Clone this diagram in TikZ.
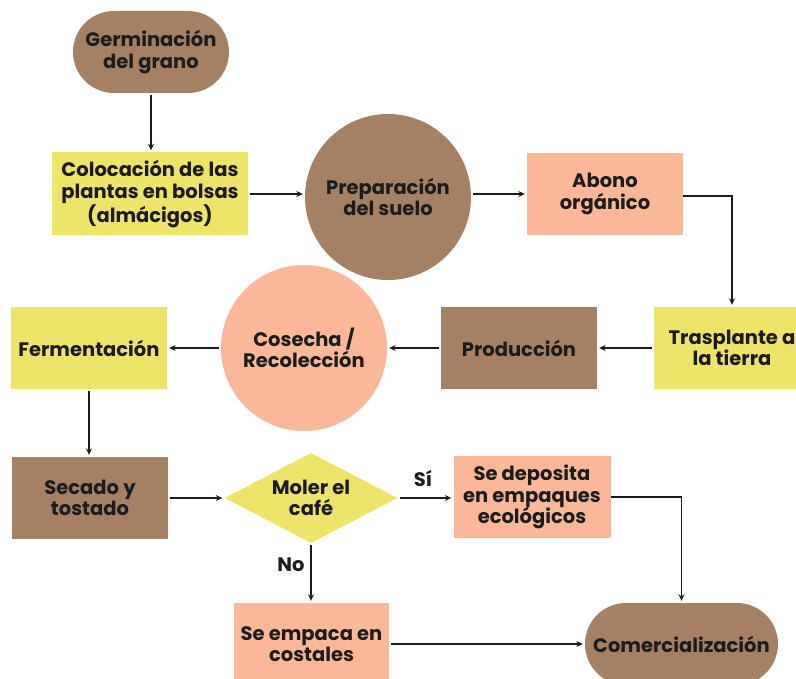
\documentclass[tikz,border=0pt]{standalone}
\usepackage{fontspec}
\setmainfont{Poppins}
\usetikzlibrary{shapes.geometric,arrows.meta}
\definecolor{cbrown}{HTML}{A68062}
\definecolor{cyellow}{HTML}{EEE46A}
\definecolor{csalmon}{HTML}{FBB898}
\definecolor{cink}{HTML}{1C1C1C}
\tikzset{
  base/.style={inner sep=0pt, align=center, text=cink,
    font=\fontsize{19.5}{21.5}\selectfont\bfseries},
  box/.style={base, rectangle, minimum width=156pt, minimum height=82pt},
  roundbox/.style={base, rectangle, rounded corners=41pt, minimum width=156pt, minimum height=82pt},
  disc/.style={base, circle, minimum size=166pt},
  lbl/.style={base},
  arr/.style={draw=cink, line width=1.8pt, -{Stealth[length=6.5pt,width=6pt]},
    shorten <=2pt, shorten >=2pt},
}
\begin{document}
\begin{tikzpicture}[x=1pt,y=-1pt]
\useasboundingbox (0,0) rectangle (796,679);
\clip (0,0) rectangle (796,679);
\fill[white] (0,0) rectangle (796,679);
% nodes
\node[roundbox, fill=cbrown] (germ) at (151,52) {Germinación\\del grano};
\node[box, fill=cyellow, minimum width=196pt, minimum height=83pt] (coloc) at (150,194) {Colocación de las\\plantas en bolsas\\(almácigos)};
\node[disc, fill=cbrown] (prep) at (388,197) {Preparación\\del suelo};
\node[box, fill=csalmon] (abono) at (605,194) {Abono\\orgánico};
\node[box, fill=cyellow] (tras) at (732,348) {Trasplante a\\la tierra};
\node[box, fill=cbrown] (prod) at (519,348) {Producción};
\node[disc, fill=csalmon] (cos) at (304,348) {Cosecha /\\Recolección};
\node[box, fill=cyellow] (ferm) at (89,348) {Fermentación};
\node[box, fill=cbrown] (sec) at (90,498) {Secado y\\tostado};
\node[diamond, fill=cyellow, inner sep=0pt, minimum width=173pt, minimum height=90pt] (moler) at (311,498) {};
\node[lbl] (molertxt) at (moler) {Moler el\\café};
\node[box, fill=csalmon, minimum width=157pt] (dep) at (532,497) {Se deposita\\en empaques\\ecológicos};
\node[box, fill=csalmon, minimum width=155pt] (emp) at (311.5,644) {Se empaca en\\costales};
\node[roundbox, fill=cbrown, minimum width=193pt] (com) at (681.5,644) {Comercialización};
% labels
\node[lbl] (si) at (423,478) {Sí};
\node[lbl] (no) at (291,565) {No};
% connectors
\draw[arr] (germ.south) -- (germ.south |- coloc.north);
\draw[arr] (coloc.east) -- (coloc.east -| prep.west);
\draw[arr] (prep.east |- abono.west) -- (abono.west);
\draw[arr, shorten <=0pt] ([yshift=-2pt]abono.east) -| (tras.north);
\draw[arr] (tras.west) -- (prod.east);
\draw[arr] (prod.west) -- (cos.east);
\draw[arr] (cos.west) -- (ferm.east);
\draw[arr] (ferm.south) -- (ferm.south |- sec.north);
\draw[arr] (sec.east) -- (moler.west);
\draw[arr] (moler.east) -- (moler.east -| dep.west);
\draw[arr] (moler.south) -- (moler.south |- emp.north);
\draw[arr, shorten <=0pt] (dep.east) -| (com.north);
\draw[arr] (emp.east) -- (com.west);
\end{tikzpicture}
\end{document}
